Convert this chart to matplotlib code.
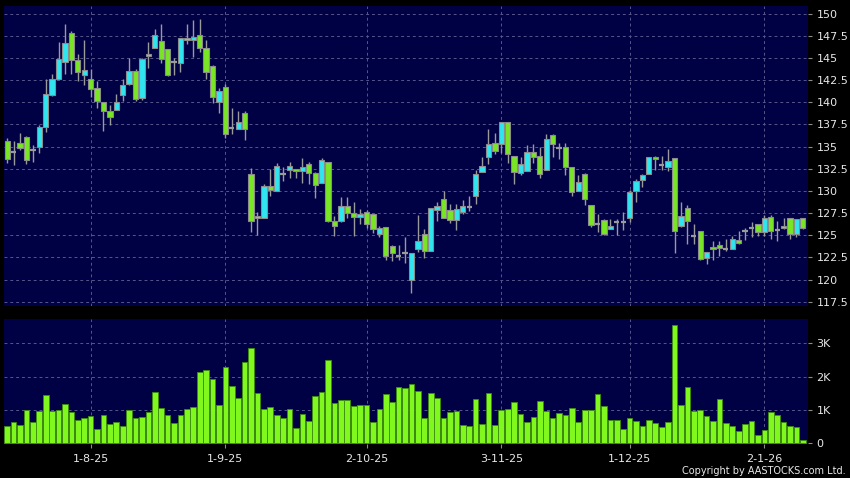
import matplotlib
matplotlib.use("Agg")
import matplotlib.pyplot as plt
import numpy as np

# ---------------- data ----------------
opens = [135.6, 134.4, 135.45, 136.05, 134.65, 135.0, 137.2, 140.85, 142.65, 144.5,
         147.8, 144.75, 143.05, 142.6, 141.6, 140.0, 139.05, 139.15, 140.8, 142.05,
         143.5, 140.45, 145.4, 146.15, 146.95, 146.0, 144.6, 144.4, 147.3, 147.05,
         147.55, 146.1, 144.15, 140.0, 141.7, 137.05, 137.0, 138.75, 131.9, 127.2,
         126.95, 130.55, 130.0, 131.9, 132.4, 132.45, 132.2, 133.0, 132.05, 130.85,
         133.25, 126.6, 126.6, 128.25, 127.5, 127.05, 127.6, 127.4, 125.15, 125.9,
         123.75, 122.7, 123.05, 120.0, 123.4, 125.2, 123.2, 127.8, 129.05, 127.9,
         126.7, 127.6, 128.2, 129.4, 132.1, 133.8, 135.45, 135.35, 137.8, 134.0,
         132.0, 132.25, 134.45, 134.0, 132.4, 136.35, 134.9, 134.95, 132.75, 129.95,
         131.95, 128.45, 126.25, 126.7, 125.75, 126.5, 126.5, 127.0, 130.05, 131.25,
         131.95, 133.85, 132.9, 132.65, 133.7, 126.0, 128.05, 124.95, 125.5, 122.4,
         123.7, 123.85, 123.5, 123.4, 124.45, 125.5, 125.85, 126.25, 125.35, 127.05,
         125.55, 125.8, 127.0, 125.2, 127.0]
highs = [136.0, 135.6, 136.5, 136.2, 135.2, 137.45, 142.6, 143.25, 146.8, 148.8,
         148.0, 145.5, 147.0, 143.8, 142.45, 140.0, 139.7, 140.95, 142.6, 145.05,
         143.8, 145.0, 146.8, 148.25, 148.8, 146.0, 145.05, 147.3, 148.8, 149.3,
         149.4, 147.05, 144.2, 141.6, 142.05, 139.35, 139.05, 139.0, 132.6, 127.6,
         130.75, 132.5, 133.1, 132.7, 133.25, 132.5, 133.7, 133.3, 132.1, 133.75,
         133.3, 127.2, 129.3, 129.3, 128.75, 127.95, 127.9, 127.4, 126.05, 125.9,
         123.95, 123.9, 124.8, 123.05, 127.25, 125.75, 128.1, 128.8, 130.0, 128.5,
         128.5, 128.95, 129.4, 132.4, 133.8, 136.95, 136.5, 137.75, 137.8, 134.0,
         133.85, 135.15, 135.35, 135.0, 136.4, 136.4, 135.45, 135.4, 132.75, 131.85,
         132.0, 128.45, 127.4, 126.85, 126.8, 126.8, 127.6, 130.1, 131.4, 131.95,
         133.8, 133.9, 133.95, 134.7, 133.7, 128.75, 128.4, 126.25, 125.5, 123.1,
         124.35, 124.35, 124.55, 124.9, 125.5, 125.85, 126.45, 126.25, 127.3, 127.3,
         126.6, 127.0, 127.0, 126.8, 127.0]
lows = [133.1, 132.9, 134.6, 133.0, 133.3, 134.3, 136.6, 140.75, 142.6, 143.25,
        143.2, 142.45, 142.0, 140.65, 139.35, 136.8, 137.45, 139.1, 140.2, 142.0,
        140.1, 140.3, 143.9, 146.1, 144.4, 143.0, 143.05, 143.4, 146.55, 145.15,
        145.7, 142.6, 139.9, 138.85, 136.0, 136.4, 137.0, 135.8, 125.4, 125.05,
        126.9, 129.4, 130.0, 131.15, 131.5, 131.45, 130.9, 130.75, 129.25, 130.85,
        126.5, 124.9, 126.5, 126.9, 124.9, 126.25, 125.85, 125.3, 124.75, 122.2,
        122.1, 122.2, 121.85, 118.5, 123.15, 122.45, 123.2, 126.6, 127.0, 126.4,
        125.6, 127.45, 127.75, 128.5, 132.1, 133.05, 134.2, 134.25, 133.1, 130.75,
        131.85, 132.25, 133.1, 131.5, 132.4, 133.85, 133.65, 131.8, 129.45, 129.95,
        128.45, 125.95, 125.4, 125.0, 125.7, 125.0, 125.65, 126.5, 128.8, 130.45,
        131.95, 132.35, 132.35, 132.25, 122.95, 125.9, 124.0, 124.05, 122.2, 121.75,
        122.2, 122.65, 123.25, 123.4, 124.0, 124.5, 124.85, 124.9, 124.9, 124.6,
        124.35, 125.7, 124.6, 124.85, 125.7]
closes = [133.6, 134.4, 134.9, 133.5, 134.65, 137.2, 140.9, 142.6, 144.85, 146.65,
          144.75, 143.4, 143.7, 141.55, 140.2, 139.05, 138.4, 140.0, 142.0, 143.5,
          140.4, 144.85, 145.2, 147.55, 144.85, 143.05, 144.6, 147.3, 147.05, 147.4,
          146.15, 143.4, 140.55, 141.25, 136.4, 137.05, 137.8, 136.95, 126.6, 126.95,
          130.55, 130.15, 132.8, 131.9, 132.8, 132.2, 132.65, 132.05, 130.65, 133.55,
          126.6, 126.0, 128.25, 127.5, 127.05, 127.4, 126.25, 125.7, 125.85, 122.65,
          123.05, 122.7, 123.05, 123.05, 124.4, 123.2, 128.1, 128.25, 127.0, 126.7,
          128.0, 128.25, 128.2, 131.95, 132.85, 135.35, 134.55, 137.75, 134.15, 132.1,
          133.0, 134.45, 133.8, 131.95, 135.9, 135.25, 134.9, 132.75, 129.85, 131.05,
          129.1, 126.2, 126.25, 125.2, 126.05, 126.5, 126.5, 129.85, 131.1, 131.75,
          133.8, 133.6, 132.9, 133.4, 125.5, 127.2, 126.6, 124.95, 122.3, 123.1,
          123.5, 123.55, 123.5, 124.6, 124.1, 125.5, 125.85, 125.35, 126.9, 125.5,
          125.55, 126.05, 125.2, 126.8, 125.8]
volumes = [500, 620, 550, 1000, 620, 950, 1440, 950, 980, 1160,
           940, 700, 760, 820, 430, 830, 560, 640, 500, 1000,
           740, 790, 920, 1520, 1060, 850, 590, 850, 1030, 1090,
           2140, 2190, 1930, 1150, 2300, 1710, 1360, 2450, 2850, 1510,
           1010, 1090, 830, 750, 1030, 460, 880, 670, 1410, 1540,
           2500, 1200, 1300, 1280, 1120, 1150, 1130, 630, 1020, 1470,
           1240, 1690, 1640, 1780, 1560, 760, 1500, 1340, 740, 920,
           970, 540, 510, 1330, 580, 1500, 540, 980, 1010, 1240,
           880, 640, 770, 1270, 960, 750, 900, 840, 1050, 620,
           980, 980, 1470, 1110, 680, 680, 420, 750, 670, 520,
           700, 600, 490, 630, 3550, 1150, 1680, 950, 980, 800,
           670, 1330, 610, 500, 350, 570, 670, 250, 380, 940,
           850, 630, 520, 480, 90]
date_tick_index = [13, 34, 56, 77, 97, 118]
date_tick_labels = ["1-8-25", "1-9-25", "2-10-25", "3-11-25", "1-12-25", "2-1-26"]
price_ticks = [117.5, 120, 122.5, 125, 127.5, 130, 132.5, 135, 137.5, 140, 142.5, 145, 147.5, 150]
vol_ticks = [0, 1000, 2000, 3000]
vol_tick_labels = ["0", "1K", "2K", "3K"]

# ---------------- style ----------------
BG = "#000044"
UP = "#2ee6f0"
DOWN = "#78e622"
EDGE = "#8c8c8c"
WICK = "#9a9a9a"
GRID = "#56568a"
VOL = "#80f81e"
VOL_EDGE = "#3c8c10"
TXT = "#e8e8e8"

fig = plt.figure(figsize=(8.5, 4.78), dpi=100, facecolor="black")
W, H = 850, 478
ax = fig.add_axes([4 / W, 1 - 306 / H, 804 / W, 300 / H])
axv = fig.add_axes([4 / W, 1 - 444 / H, 804 / W, 125 / H])

x = np.arange(len(opens))
o = np.array(opens); c = np.array(closes); hi = np.array(highs); lo = np.array(lows)

for a in (ax, axv):
    a.set_facecolor(BG)
    for s in a.spines.values():
        s.set_visible(False)
    a.set_xlim(-0.5, 124.8)
    a.set_axisbelow(True)
    a.grid(True, color=GRID, linestyle=(0, (3, 3)), linewidth=0.7)
    a.yaxis.tick_right()
    a.tick_params(axis="y", colors=EDGE, labelcolor=TXT, length=3, width=0.8,
                  labelsize=8, pad=3)
    a.set_xticks(date_tick_index)

# candles
bw = 0.82
ax.vlines(x, lo, hi, color=WICK, linewidth=1.0, zorder=2)
up = c > o
down = c < o
doji = c == o
ax.bar(x[up], (c - o)[up], bottom=o[up], width=bw, color=UP, edgecolor=EDGE,
       linewidth=0.8, zorder=3)
ax.bar(x[down], (o - c)[down], bottom=c[down], width=bw, color=DOWN, edgecolor=EDGE,
       linewidth=0.8, zorder=3)
ax.hlines(c[doji], x[doji] - bw / 2, x[doji] + bw / 2, color=WICK, linewidth=1.6, zorder=3)

ax.set_ylim(117.02, 150.87)
ax.set_yticks(price_ticks)
ax.set_yticklabels([("%g" % t) for t in price_ticks])
ax.tick_params(axis="x", which="both", length=0, labelbottom=False)

# volume
axv.bar(x, volumes, width=0.88, color=VOL, edgecolor=VOL_EDGE, linewidth=0.6, zorder=3)
axv.set_ylim(-30, 3730)
axv.set_yticks(vol_ticks)
axv.set_yticklabels(vol_tick_labels)
axv.set_xticklabels(date_tick_labels)
axv.tick_params(axis="x", colors=EDGE, labelcolor=TXT, length=3, width=0.8,
                labelsize=8, pad=4)

fig.text(846 / W, 1 - 471.5 / H, "Copyright by AASTOCKS.com Ltd.", ha="right",
         va="center", color=TXT, fontsize=7)

fig.savefig("out.png", dpi=100, facecolor="black")
